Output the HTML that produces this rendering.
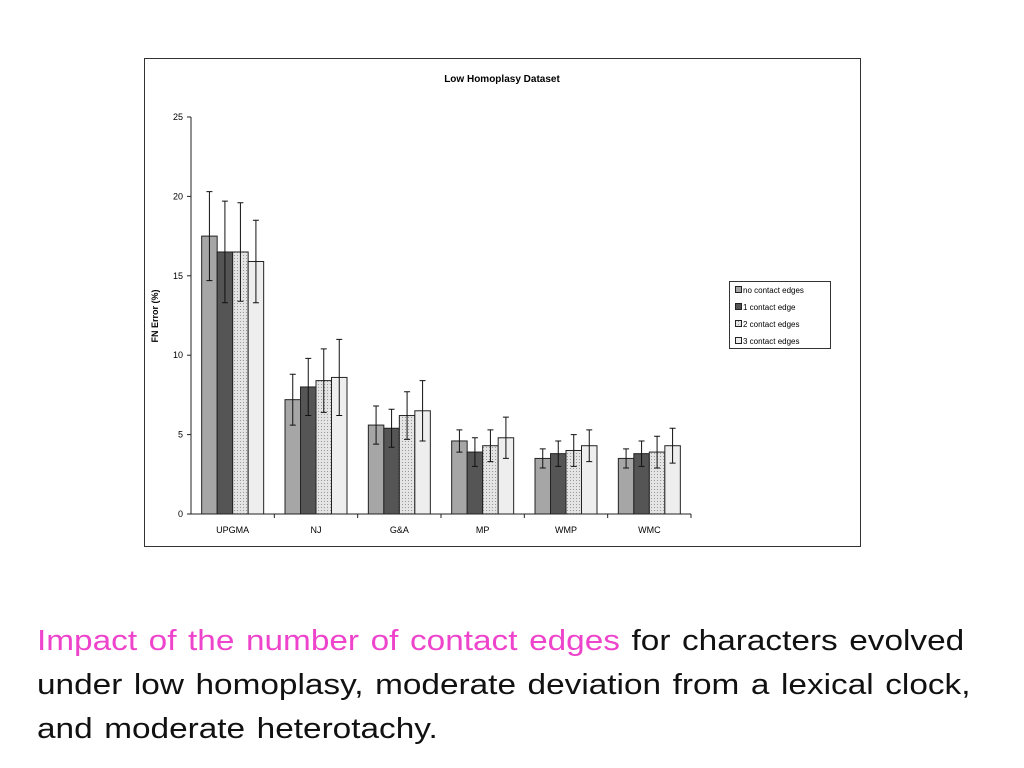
<!DOCTYPE html>
<html><head><meta charset="utf-8"><style>
body{margin:0;background:#fff;width:1024px;height:768px;overflow:hidden;font-family:"Liberation Sans",sans-serif}
#cap{position:absolute;left:37px;top:619px;font-size:29px;line-height:44px;color:#111;white-space:nowrap;transform:scaleX(1.15);transform-origin:0 0;word-spacing:2px}
#cap .pk{color:#ee44cc}
</style></head><body>
<svg width="1024" height="600" style="position:absolute;left:0;top:0">
<defs><pattern id="dots" width="3" height="3" patternUnits="userSpaceOnUse"><rect width="3" height="3" fill="#e4e4e4"/><rect width="1" height="1" fill="#999"/></pattern></defs>
<rect x="144.5" y="58.5" width="716" height="488" fill="#fff" stroke="#333"/>
<text x="502" y="82" font-size="10" font-weight="bold" text-anchor="middle" font-family="Liberation Sans">Low Homoplasy Dataset</text>
<text transform="translate(158,316) rotate(-90)" font-size="9" font-weight="bold" text-anchor="middle" font-family="Liberation Sans">FN Error (%)</text>
<g id="plot"></g>
<g>
<rect x="729.5" y="281.5" width="101" height="67" fill="#fff" stroke="#333"/>
<g id="leg"></g>
</g>
</svg>
<div id="cap"><span class="pk">Impact of the number of contact edges</span> for characters evolved<br>under low homoplasy, moderate deviation from a lexical clock,<br>and moderate heterotachy.</div>
<script>
const categories=["UPGMA","NJ","G&A","MP","WMP","WMC"];
const seriesNames=["no contact edges","1 contact edge","2 contact edges","3 contact edges"];
const s0=[17.5,7.2,5.6,4.6,3.5,3.5];
const s1=[16.5,8.0,5.4,3.9,3.8,3.8];
const s2=[16.5,8.4,6.2,4.3,4.0,3.9];
const s3=[15.9,8.6,6.5,4.8,4.3,4.3];
const e0=[2.8,1.6,1.2,0.7,0.6,0.6];
const e1=[3.2,1.8,1.2,0.9,0.8,0.8];
const e2=[3.1,2.0,1.5,1.0,1.0,1.0];
const e3=[2.6,2.4,1.9,1.3,1.0,1.1];
const yTicks=[0,5,10,15,20,25];
const fills=["#a6a6a6","#555","url(#dots)","#eee"];
const NS="http://www.w3.org/2000/svg";
const x0=191,x1=691,yb=514,yt=117,ymax=25;
const y=v=>yb-(yb-yt)*v/ymax;
const gw=(x1-x0)/categories.length,bw=15.5;
const g=document.getElementById('plot');
function mk(t,a,p){const e=document.createElementNS(NS,t);for(const k in a)e.setAttribute(k,a[k]);(p||g).appendChild(e);return e;}
const series=[s0,s1,s2,s3],errs=[e0,e1,e2,e3];
categories.forEach((c,i)=>{
  const gx=x0+gw*i+(gw-4*bw)/2;
  series.forEach((s,j)=>{
    const bx=gx+j*bw;
    const r=mk('rect',{x:bx,y:y(s[i]),width:bw,height:yb-y(s[i]),fill:fills[j],stroke:'#222','stroke-width':1});
    
    
    const cx=bx+bw/2,hi=y(s[i]+errs[j][i]),lo=y(s[i]-errs[j][i]);
    const eb=mk('path',{d:`M${cx},${hi}V${lo}M${cx-3},${hi}H${cx+3}M${cx-3},${lo}H${cx+3}`,stroke:'#111','stroke-width':1,fill:'none'});
    
    
  });
  const t=mk('text',{x:x0+gw*(i+0.5),y:yb+19,'font-size':9,'text-anchor':'middle','font-family':'Liberation Sans'});
  t.textContent=c;
  
  
  mk('line',{x1:x0+gw*(i+1),x2:x0+gw*(i+1),y1:yb,y2:yb+4,stroke:'#222'});
});
mk('line',{x1:x0,x2:x0,y1:yt,y2:yb,stroke:'#222'});
mk('line',{x1:x0,x2:x1,y1:yb,y2:yb,stroke:'#222'});
yTicks.forEach(v=>{
  mk('line',{x1:x0-4,x2:x0,y1:y(v),y2:y(v),stroke:'#222'});
  const t=mk('text',{x:x0-8,y:y(v)+3,'font-size':9,'text-anchor':'end','font-family':'Liberation Sans'});
  t.textContent=v;
  
  
});
const lg=document.getElementById('leg');
seriesNames.forEach((n,j)=>{
  const yy=286+j*17;
  mk('rect',{x:735.5,y:yy+0.5,width:6,height:6,fill:fills[j],stroke:'#222'},lg);
  const t=mk('text',{x:743,y:yy+7,'font-size':8,'font-family':'Liberation Sans'},lg);
  t.textContent=n;
  
  
});
</script>
</body></html>
